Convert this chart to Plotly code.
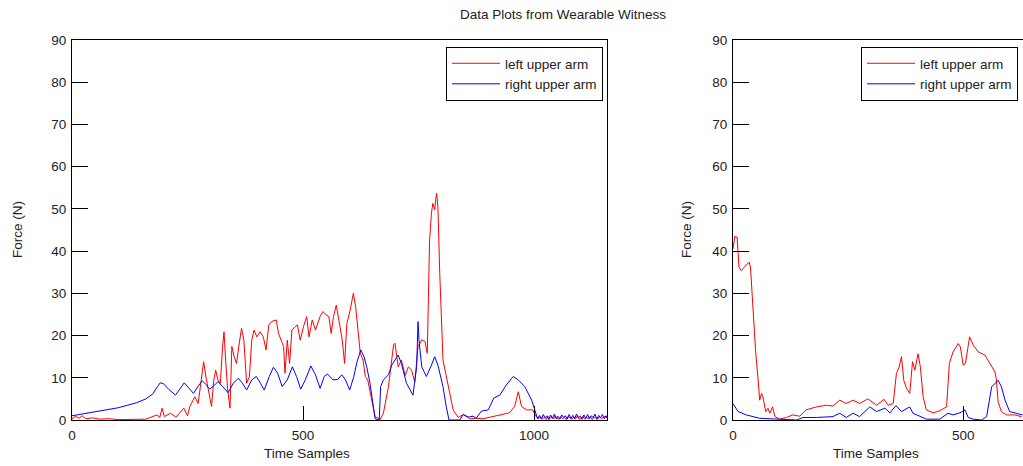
import plotly.graph_objects as go

W, H = 1023, 466

# ---- left panel: values ----
left_red_x = [0, 8, 15, 22, 30, 45, 60, 80, 100, 130, 160, 184, 190, 195, 200, 213, 225, 242, 250,
              255, 266, 273, 280, 285, 291, 297, 302, 307, 311, 316, 321, 326, 329, 333, 337, 342,
              346, 351, 356, 362, 367, 372, 378, 384, 389, 394, 400, 407, 414, 420, 426, 432, 442,
              447, 452, 458, 461, 466, 471, 476, 483, 488, 494, 501, 508, 513, 520, 527, 537, 543,
              550, 556, 561, 566, 572, 577, 585, 590, 595, 602, 609, 614, 619, 624, 630, 635, 640,
              645, 656, 667, 674, 685, 696, 699, 706, 713, 721, 728, 735, 742, 749, 757, 764, 769,
              772, 774, 778, 781, 785, 789, 792, 796, 803, 810, 818, 825, 836, 847, 861, 875, 890,
              911, 933, 947, 958, 966, 973, 984, 997, 1006, 1010, 1014, 1018, 1022, 1026, 1030,
              1034, 1038, 1042, 1046, 1050, 1054, 1058, 1062, 1066, 1070, 1074, 1078, 1082, 1086,
              1090, 1094, 1098, 1102, 1106, 1110, 1114, 1118, 1122, 1126, 1130, 1134, 1138, 1142,
              1146, 1150, 1154, 1158]
left_red_y = [0.3, 0.9, 0.4, 1.0, 0.3, 0.5, 0.2, 0.3, 0.1, 0.2, 0.2, 1.2, 0.6, 2.8, 0.8, 1.6, 0.7, 2.8, 1.0,
              3.2, 5.5, 3.9, 9.5, 13.8, 9.5, 5.5, 3.2, 9.5, 11.8, 9.5, 8.7, 17.4, 20.9, 13.4, 7.1, 2.8,
              17.4, 15.0, 13.4, 18.2, 21.7, 18.9, 8.7, 10.3, 18.9, 21.3, 19.7, 20.9, 19.7, 16.6, 22.5, 23.3, 23.7,
              20.5, 18.9, 17.4, 11.1, 18.9, 13.4, 21.3, 22.1, 22.5, 18.9, 22.1, 24.5, 19.7, 23.7, 21.3, 24.5, 25.7,
              24.9, 24.5, 20.5, 24.5, 27.2, 23.7, 18.9, 13.4, 22.9, 26.0, 30.0, 26.8, 20.5, 15.8, 14.2, 10.3, 9.5,
              6.5, 0.8, 0.2, 1.6, 7.9, 17.8, 18.2, 12.6, 14.2, 10.5, 12.6, 11.8, 9.0, 17.4, 19.0, 18.6, 15.8,
              38.7, 42.6, 49.0, 51.3, 49.8, 53.7, 50.5, 34.7, 14.2, 10.5, 6.3, 2.4, 0.6, 1.3, 0.3, 0.4, 0.3,
              0.8, 1.3, 1.7, 3.2, 6.7, 3.2, 2.4, 2.4, 0.6, 0.3, 0.8, 0.2, 0.6, 0.1, 0.9,
              0.3, 0.7, 0.2, 1.0, 0.4, 0.2, 0.8, 0.3, 0.6, 0.1, 0.9, 0.4, 0.2, 0.7,
              0.3, 1.0, 0.2, 0.5, 0.8, 0.2, 0.6, 0.3, 0.9, 0.1, 0.7, 0.4, 0.2, 0.8,
              0.3, 0.6, 0.9, 0.4]

left_blue_x = [0, 20, 40, 60, 80, 100, 120, 140, 160, 175, 185, 191, 198, 210, 224, 235, 243, 251, 263,
               273, 282, 290, 298, 307, 316, 326, 338, 349, 360, 369, 378, 389, 399, 408, 416, 427, 436,
               445, 455, 466, 477, 486, 495, 505, 517, 527, 537, 546, 553, 565, 575, 584, 592, 601, 610,
               617, 625, 632, 638, 645, 650, 656, 665, 668, 674, 685, 692, 706, 713, 724, 738, 746, 749,
               751, 757, 767, 778, 785, 792, 803, 810, 816, 839, 847, 858, 868, 875, 886, 901, 913, 926,
               940, 955, 966, 980, 995, 1006, 1008, 1012, 1016, 1020, 1024, 1028, 1032, 1036, 1040,
               1044, 1048, 1052, 1056, 1060, 1064, 1068, 1072, 1076, 1080, 1084, 1088, 1092, 1096,
               1100, 1104, 1108, 1112, 1116, 1120, 1124, 1128, 1132, 1136, 1140, 1144, 1148, 1152,
               1156, 1158]
left_blue_y = [1.0, 1.4, 1.7, 2.1, 2.5, 2.9, 3.5, 4.1, 5.0, 6.2, 7.9, 8.8, 8.6, 7.2, 5.9, 7.6, 8.8, 7.8, 6.3,
               8.0, 9.3, 8.4, 7.3, 8.1, 9.1, 7.9, 6.5, 8.7, 9.9, 8.7, 7.1, 9.5, 10.3, 8.7, 7.1, 10.3, 12.5,
               11.1, 7.9, 9.5, 12.6, 10.3, 7.3, 9.5, 12.8, 10.7, 7.5, 10.3, 10.9, 9.5, 9.6, 10.7, 9.5, 7.1, 10.3,
               13.8, 16.6, 15.0, 12.6, 8.7, 4.5, 0.3, 0.0, 7.9, 9.5, 10.7, 13.0, 15.4, 13.4, 8.7, 5.9, 12.6, 23.3,
               19.0, 12.6, 10.3, 13.0, 15.0, 13.0, 7.9, 3.2, 0.0, 0.0, 1.3, 0.7, 0.9, 0.4, 2.1, 2.4, 5.2, 5.9,
               8.3, 10.3, 9.5, 7.9, 4.7, 0.9, 0.3, 1.1, 0.2, 1.3, 0.5, 1.0, 0.1, 1.2, 0.4,
               1.4, 0.3, 0.9, 0.2, 1.2, 0.6, 1.0, 0.2, 1.3, 0.4, 1.1, 0.3, 1.4, 0.5,
               0.9, 0.2, 1.2, 0.4, 1.3, 0.3, 1.0, 0.6, 1.4, 0.2, 1.1, 0.5, 1.3, 0.3,
               1.0, 0.6]

# ---- right panel ----
right_red_x = [0, 4, 9, 13, 18, 25, 35, 38, 43, 49, 54, 58, 62, 65, 71, 76, 80, 86, 91, 101, 116, 130,
               145, 159, 181, 203, 217, 232, 246, 261, 275, 293, 312, 328, 337, 348, 355, 361, 366, 371,
               377, 384, 390, 395, 402, 407, 413, 420, 435, 449, 464, 470, 478, 489, 494, 500, 505, 514,
               522, 533, 547, 558, 569, 572, 576, 583, 594, 612, 627]
right_red_y = [40.5, 43.5, 43.3, 36.2, 35.4, 36.2, 37.4, 36.2, 26.0, 16.5, 10.2, 4.7, 6.3, 5.5, 2.0, 2.8, 1.6,
               3.1, 0.8, 0.2, 0.6, 1.2, 0.9, 2.4, 3.1, 3.5, 3.3, 4.7, 3.9, 4.7, 3.9, 5.0, 3.5, 4.9, 3.5, 3.9,
               11.0, 12.6, 15.0, 9.4, 7.5, 6.3, 13.8, 11.8, 15.7, 12.6, 5.5, 2.4, 1.7, 2.2, 3.1, 13.4, 16.1,
               18.1, 17.3, 13.0, 13.4, 19.7, 17.7, 16.1, 15.4, 13.4, 11.4, 9.8, 4.3, 2.0, 1.2, 1.2, 0.8]

right_blue_x = [0, 4, 11, 29, 58, 101, 138, 152, 181, 217, 232, 246, 261, 275, 297, 312, 330, 341, 354,
                366, 384, 391, 406, 420, 449, 467, 478, 493, 504, 511, 522, 540, 551, 562, 571, 576, 583,
                591, 601, 616, 629]
right_blue_y = [3.9, 3.1, 2.0, 1.2, 0.4, 0.2, 0.0, 0.6, 0.6, 0.8, 1.6, 0.6, 1.6, 0.8, 3.1, 2.0, 2.8, 1.7, 3.4,
                2.0, 3.1, 1.6, 0.8, 0.2, 0.2, 1.6, 1.2, 1.7, 2.4, 0.6, 0.2, 0.0, 0.8, 7.9, 8.8, 9.4, 7.9,
                4.7, 2.0, 1.6, 1.2]

RED, BLUE = "#ff0000", "#0000ff"
FONT = "Liberation Sans, Arial, sans-serif"
TXT = "#222222"
FS = 13.5


def px_x(p):
    return p / W


def px_y(p):
    return 1 - p / H


fig = go.Figure()
fig.add_trace(go.Scatter(x=left_red_x, y=left_red_y, mode="lines", name="left upper arm",
                         line=dict(color=RED, width=1), xaxis="x", yaxis="y", legend="legend"))
fig.add_trace(go.Scatter(x=left_blue_x, y=left_blue_y, mode="lines", name="right upper arm",
                         line=dict(color=BLUE, width=1), xaxis="x", yaxis="y", legend="legend"))
fig.add_trace(go.Scatter(x=right_red_x, y=right_red_y, mode="lines", name="left upper arm",
                         line=dict(color=RED, width=1), xaxis="x2", yaxis="y2", legend="legend2"))
fig.add_trace(go.Scatter(x=right_blue_x, y=right_blue_y, mode="lines", name="right upper arm",
                         line=dict(color=BLUE, width=1), xaxis="x2", yaxis="y2", legend="legend2"))

ydom = [px_y(420), px_y(40)]
left_dom = [px_x(72), px_x(607)]
right_dom = [px_x(733), 1.0]

base_x = dict(showgrid=False, zeroline=False, showline=True, linecolor="black", linewidth=1,
              ticks="inside", ticklen=14, tickcolor="black", tickfont=dict(size=FS, color=TXT),
              ticklabelstandoff=3)
base_y = dict(showgrid=False, zeroline=False, showline=True, linecolor="black", linewidth=1,
              ticks="inside", ticklen=16, tickcolor="black", tickfont=dict(size=FS, color=TXT),
              range=[0, 90], tickvals=list(range(0, 91, 10)), ticklabelstandoff=2)
sec = dict(ticks="inside", tickcolor="black", showticklabels=False,
           showgrid=False, zeroline=False, showline=False)
leg = dict(xanchor="right", yanchor="top", bgcolor="white", bordercolor="black", borderwidth=1,
           font=dict(size=FS, color=TXT), tracegroupgap=0, itemwidth=48)

fig.update_layout(
    width=W, height=H,
    margin=dict(l=0, r=0, t=0, b=0, autoexpand=False),
    paper_bgcolor="white", plot_bgcolor="white",
    font=dict(family=FONT, size=FS, color=TXT),
    xaxis=dict(base_x, domain=left_dom, anchor="y", range=[0, 1158], tickvals=[0, 500, 1000], mirror=True),
    yaxis=dict(base_y, domain=ydom, anchor="x", mirror=True),
    xaxis2=dict(base_x, domain=right_dom, anchor="y2", range=[0, 630], tickvals=[0, 500], mirror=True),
    yaxis2=dict(base_y, domain=ydom, anchor="x2"),
    # second tick sets on the top and right edges
    xaxis3=dict(sec, overlaying="x", anchor="y", side="top", range=[0, 1158], tickvals=[500], ticklen=14),
    yaxis3=dict(sec, overlaying="y", anchor="x", side="right", range=[0, 6], tickvals=[1, 2, 3, 4, 5], ticklen=17),
    xaxis4=dict(sec, overlaying="x2", anchor="y2", side="top", range=[0, 630], tickvals=[500], ticklen=14),
    yaxis4=dict(sec, overlaying="y2", anchor="x2", side="right", range=[0, 6], tickvals=[1, 2, 3, 4, 5], ticklen=17),
    legend=dict(leg, x=px_x(603), y=px_y(47)),
    legend2=dict(leg, x=px_x(1018), y=px_y(47)),
    showlegend=True,
)

annos = [
    dict(text="Data Plots from Wearable Witness", x=px_x(563), y=px_y(14)),
    dict(text="Time Samples", x=px_x(307), y=px_y(453)),
    dict(text="Time Samples", x=px_x(876), y=px_y(453)),
    dict(text="Force (N)", x=px_x(17), y=px_y(230), textangle=-90),
    dict(text="Force (N)", x=px_x(686), y=px_y(230), textangle=-90),
]
for a in annos:
    fig.add_annotation(xref="paper", yref="paper", showarrow=False, xanchor="center",
                       yanchor="middle", font=dict(size=FS, color=TXT), **a)

fig.write_html("out.html", config={"displayModeBar": False},
               post_script="document.body.style.margin='0';document.body.style.overflow='hidden';")
